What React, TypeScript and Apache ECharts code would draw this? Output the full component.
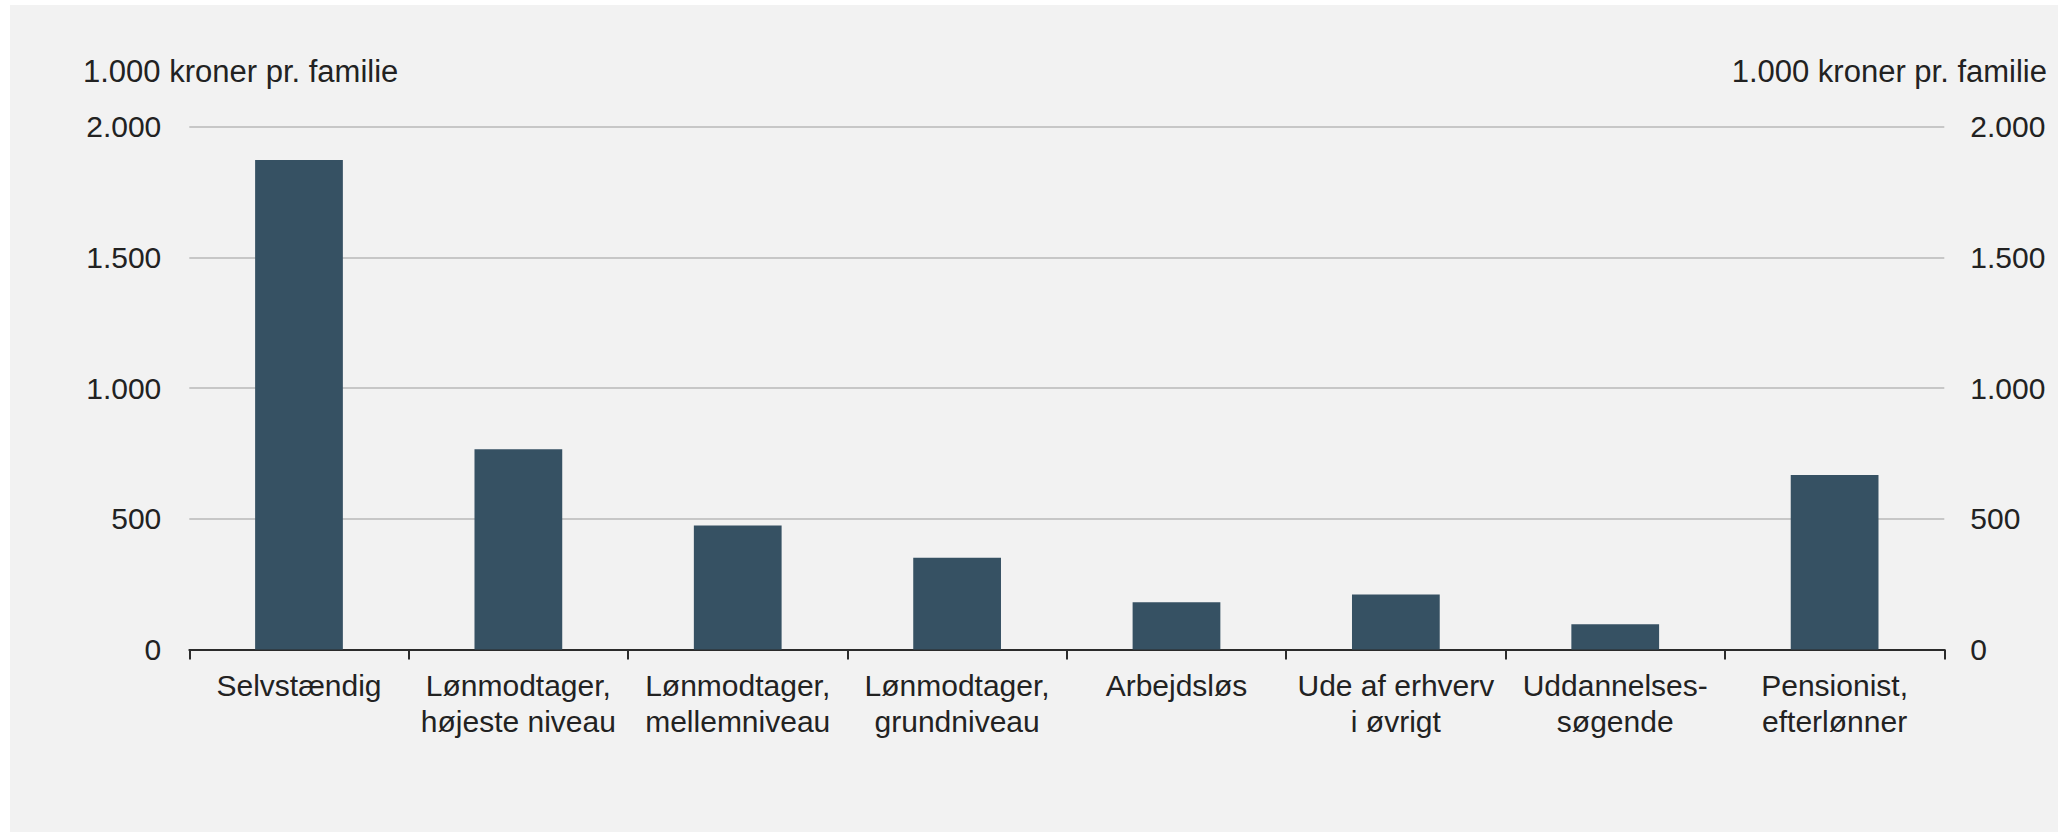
import React, { useEffect, useRef } from "react";
import * as echarts from "echarts";

const categories: string[] = [
  "Selvstændig",
  "Lønmodtager,\nhøjeste niveau",
  "Lønmodtager,\nmellemniveau",
  "Lønmodtager,\ngrundniveau",
  "Arbejdsløs",
  "Ude af erhverv\ni øvrigt",
  "Uddannelses-\nsøgende",
  "Pensionist,\nefterlønner",
];
const values: number[] = [1873, 766, 474, 351, 181, 210, 97, 668];
const unitLabel = "1.000 kroner pr. familie";
const yMin = 0;
const yMax = 2000;
const yStep = 500;

const FONT = "'Liberation Sans', Arial, sans-serif";
const TEXT = "#222222";

const fmt = (v: number) => String(v).replace(/\B(?=(\d{3})+(?!\d))/g, ".");

export default function App() {
  const ref = useRef<HTMLDivElement>(null);
  useEffect(() => {
    if (!ref.current) return;
    const chart = echarts.init(ref.current, undefined, { renderer: "svg" });
    const yAxisBase = {
      type: "value" as const,
      min: yMin,
      max: yMax,
      interval: yStep,
      axisLine: { show: false },
      axisTick: { show: false },
    };
    chart.setOption({
      animation: false,
      backgroundColor: "#f2f2f2",
      textStyle: { fontFamily: FONT },
      grid: { left: 179.3, right: 113.7, top: 121.7, bottom: 182.5, containLabel: false },
      graphic: [
        {
          type: "text",
          x: 73,
          y: 66,
          style: { text: unitLabel, fontSize: 31, fontFamily: FONT, fill: TEXT, align: "left", verticalAlign: "middle" },
        },
        {
          type: "text",
          x: 2037,
          y: 66,
          style: { text: unitLabel, fontSize: 31, fontFamily: FONT, fill: TEXT, align: "right", verticalAlign: "middle" },
        },
      ],
      xAxis: {
        type: "category",
        data: categories,
        axisLine: { show: true, lineStyle: { color: "#2b2b2b", width: 2 } },
        axisTick: { show: true, length: 10, lineStyle: { color: "#2b2b2b", width: 2 } },
        axisLabel: { interval: 0, margin: 18, fontSize: 30, lineHeight: 36, color: TEXT, fontFamily: FONT },
      },
      yAxis: [
        {
          ...yAxisBase,
          position: "left",
          splitLine: { show: true, lineStyle: { color: "#b9b9b9", width: 1.5 } },
          axisLabel: { margin: 28, fontSize: 30, color: TEXT, fontFamily: FONT, formatter: (v: number) => fmt(v) },
        },
        {
          ...yAxisBase,
          position: "right",
          splitLine: { show: false },
          axisLabel: { margin: 26, fontSize: 30, color: TEXT, fontFamily: FONT, formatter: (v: number) => fmt(v) },
        },
      ],
      series: [
        {
          type: "bar",
          data: values,
          barWidth: "40%",
          itemStyle: { color: "#365163" },
          yAxisIndex: 0,
        },
      ],
    });
    return () => chart.dispose();
  }, []);
  return (
    <div style={{ position: "fixed", left: 0, top: 0, width: 2058, height: 832, background: "#ffffff" }}>
      <div ref={ref} style={{ position: "absolute", left: 10, top: 5, width: 2048, height: 827 }} />
    </div>
  );
}
